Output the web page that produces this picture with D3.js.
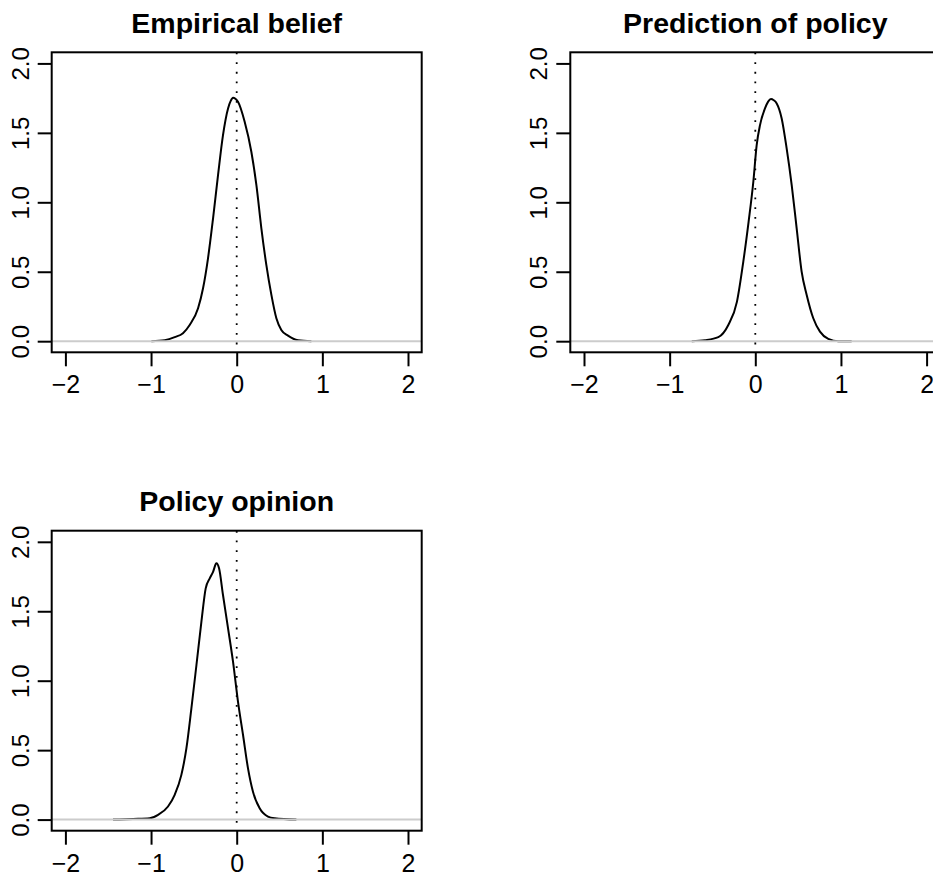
<!DOCTYPE html>
<html>
<head>
<meta charset="utf-8">
<script src="https://cdn.jsdelivr.net/npm/d3@7"></script>
<style>
  html, body { margin: 0; padding: 0; background: #ffffff; }
  svg { display: block; }
  text { font-family: "Liberation Sans", Arial, Helvetica, sans-serif; fill: #000; }
</style>
</head>
<body>
<svg id="chart" width="933" height="880"></svg>
<script>
// ---- data ----
const titles = ["Empirical belief", "Prediction of policy", "Policy opinion"];
const xTicks = [-2, -1, 0, 1, 2];
const xTickLabels = ["\u22122", "\u22121", "0", "1", "2"];
const yTicks = [0, 0.5, 1, 1.5, 2];
const yTickLabels = ["0.0", "0.5", "1.0", "1.5", "2.0"];

const beliefX = [-0.996, -0.84, -0.724, -0.627, -0.549, -0.451, -0.393, -0.335, -0.276, -0.218, -0.16, -0.101, -0.07, -0.043, -0.015, 0.015, 0.093, 0.171, 0.23, 0.288, 0.346, 0.405, 0.463, 0.521, 0.599, 0.716, 0.872];
const beliefY = [0, 0.007, 0.029, 0.058, 0.117, 0.237, 0.381, 0.597, 0.885, 1.196, 1.484, 1.676, 1.73, 1.753, 1.745, 1.724, 1.58, 1.364, 1.124, 0.813, 0.549, 0.333, 0.165, 0.081, 0.04, 0.007, 0];

const predictionX = [-0.742, -0.587, -0.432, -0.315, -0.214, -0.14, -0.078, -0.023, 0.016, 0.055, 0.113, 0.15, 0.183, 0.215, 0.25, 0.308, 0.366, 0.425, 0.483, 0.541, 0.6, 0.677, 0.755, 0.852, 0.969, 1.125];
const predictionY = [0, 0.007, 0.029, 0.117, 0.285, 0.573, 0.861, 1.148, 1.412, 1.556, 1.676, 1.725, 1.743, 1.735, 1.712, 1.604, 1.388, 1.124, 0.813, 0.501, 0.333, 0.165, 0.069, 0.017, 0, 0];

const opinionX = [-1.444, -1.21, -1.016, -0.918, -0.802, -0.724, -0.646, -0.587, -0.529, -0.47, -0.412, -0.362, -0.315, -0.276, -0.237, -0.206, -0.16, -0.101, -0.043, 0.015, 0.074, 0.132, 0.19, 0.268, 0.365, 0.444, 0.697];
const opinionY = [0, 0.005, 0.01, 0.034, 0.094, 0.178, 0.322, 0.514, 0.801, 1.113, 1.425, 1.665, 1.737, 1.784, 1.845, 1.809, 1.617, 1.377, 1.137, 0.849, 0.609, 0.369, 0.201, 0.081, 0.022, 0.01, 0];

const seriesX = [beliefX, predictionX, opinionX];
const seriesY = [beliefY, predictionY, opinionY];

// ---- layout ----
const panels = [
  { left: 51.7, top: 52.3 },
  { left: 570.3, top: 52.3 },
  { left: 51.7, top: 530.7 }
];
const plotW = 370, plotH = 300;
const fontStack = "'Liberation Sans', Arial, Helvetica, sans-serif";

const svg = d3.select("#chart");

panels.forEach((p, i) => {
  const x = d3.scaleLinear().domain([-2.16, 2.16]).range([p.left, p.left + plotW]);
  const y = d3.scaleLinear().domain([-0.08, 2.08]).range([p.top + plotH, p.top]);
  const g = svg.append("g");

  // density curve
  const pts = seriesX[i].map((v, k) => [v, seriesY[i][k]]);
  g.append("path")
    .datum(pts)
    .attr("fill", "none")
    .attr("stroke", "#000")
    .attr("stroke-width", 2)
    .attr("stroke-linejoin", "round")
    .attr("d", d3.line().x(d => x(d[0])).y(d => y(d[1])).curve(d3.curveMonotoneX));

  // grey zero line
  g.append("line")
    .attr("x1", p.left).attr("x2", p.left + plotW)
    .attr("y1", y(0)).attr("y2", y(0))
    .attr("stroke", "#cccccc").attr("stroke-width", 2);

  // dotted vertical line at 0
  g.append("line")
    .attr("x1", x(0)).attr("x2", x(0))
    .attr("y1", p.top).attr("y2", p.top + plotH)
    .attr("stroke", "#000").attr("stroke-width", 1.8)
    .attr("stroke-dasharray", "1.8,7.87")
    .attr("stroke-dashoffset", -0.2);

  // box
  g.append("rect")
    .attr("x", p.left).attr("y", p.top)
    .attr("width", plotW).attr("height", plotH)
    .attr("fill", "none").attr("stroke", "#000").attr("stroke-width", 2);

  // x axis
  const xa = g.append("g")
    .attr("transform", `translate(0,${p.top + plotH})`)
    .call(d3.axisBottom(x).tickValues(xTicks)
      .tickFormat((d, k) => xTickLabels[k]).tickSize(14));
  xa.attr("font-size", null).attr("font-family", null);
  xa.select(".domain").remove();
  xa.selectAll(".tick line").attr("stroke", "#000").attr("stroke-width", 2);
  xa.selectAll(".tick text")
    .attr("y", 41).attr("dy", 0)
    .style("font-size", "25px")
    .style("font-family", fontStack)
    .attr("fill", "#000");

  // y axis
  const ya = g.append("g")
    .attr("transform", `translate(${p.left},0)`)
    .call(d3.axisLeft(y).tickValues(yTicks)
      .tickFormat((d, k) => yTickLabels[k]).tickSize(14));
  ya.attr("font-size", null).attr("font-family", null);
  ya.select(".domain").remove();
  ya.selectAll(".tick line").attr("stroke", "#000").attr("stroke-width", 2);
  ya.selectAll(".tick text")
    .attr("x", null).attr("dy", 0)
    .attr("transform", "translate(-23,0) rotate(-90)")
    .attr("text-anchor", "middle")
    .style("font-size", "24px")
    .style("font-family", fontStack)
    .attr("fill", "#000");

  // title
  svg.append("text")
    .attr("x", p.left + plotW / 2)
    .attr("y", p.top - 19.8)
    .attr("text-anchor", "middle")
    .style("font-size", "28.5px")
    .style("font-family", fontStack)
    .attr("font-weight", "bold")
    .text(titles[i]);
});
</script>
</body>
</html>
